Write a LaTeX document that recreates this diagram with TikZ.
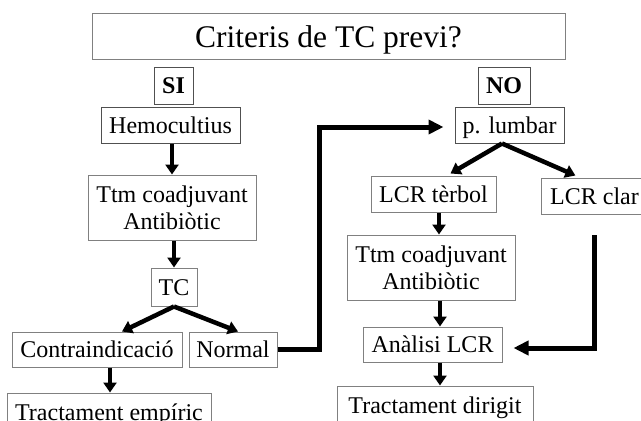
\documentclass[tikz,border=0pt]{standalone}
\usepackage{fontspec}
\setmainfont{Liberation Serif}
\usetikzlibrary{arrows.meta}
\definecolor{boxgray}{HTML}{808080}
\definecolor{boxdark}{HTML}{505050}
\begin{document}
\begin{tikzpicture}[x=1pt,y=-1pt,
  boxbase/.style={draw=boxgray, line width=1pt, inner sep=0pt, font=\fontsize{24}{27}\selectfont},
  box/.style={boxbase, text height=18pt, text depth=2pt},
  box2/.style={boxbase, align=center},
  titlebox/.style={boxbase, text height=24pt, text depth=2pt, font=\fontsize{31.5}{36}\selectfont},
  short/.style={line width=4.5pt, -{Triangle[width=13pt,length=10pt]}},
  long/.style={line width=5pt, -{Triangle[width=14pt,length=15pt]}}]
\clip (0,0) rectangle (641,421);
\fill[white] (0,0) rectangle (641,421);

\node[titlebox, minimum width=473pt, minimum height=46pt] (title) at (328.5,36) {Criteris de TC previ?};
\node[box, draw=boxdark, minimum width=39pt, minimum height=37pt] (si) at (173.5,85.5) {\textbf{SI}};
\node[box, draw=boxdark, minimum width=52pt, minimum height=37pt] (no) at (504,85.5) {\textbf{NO}};
\node[box, draw=boxdark, minimum width=139pt, minimum height=36pt] (hemo) at (170.5,125) {Hemocultius};
\node[box, draw=boxdark, minimum width=109pt, minimum height=36pt] (lumbar) at (509.5,125) {p. lumbar};
\node[box2, minimum width=168pt, minimum height=65pt] (ttmL) at (172,207.5) {Ttm coadjuvant\\Antibiòtic};
\node[box, minimum width=46pt, minimum height=38pt] (tc) at (174,287) {TC};
\node[box, minimum width=170pt, minimum height=35pt] (contra) at (97,349.5) {Contraindicació};
\node[box, minimum width=88pt, minimum height=35pt] (normal) at (233,349.5) {Normal};
\node[box, minimum width=204pt, minimum height=39pt] (empiric) at (109,412.5) {Tractament empíric};
\node[box, minimum width=125pt, minimum height=36pt] (terbol) at (433.5,194) {LCR tèrbol};
\node[box, minimum width=107pt, minimum height=36pt] (clar) at (594.5,196) {LCR clar};
\node[box2, minimum width=168pt, minimum height=65pt] (ttmR) at (431,267.5) {Ttm coadjuvant\\Antibiòtic};
\node[box, minimum width=139pt, minimum height=35pt] (analisi) at (432.5,344.5) {Anàlisi LCR};
\node[box, minimum width=196pt, minimum height=38pt] (dirigit) at (435,405) {Tractament dirigit};
\coordinate (clarout) at (594,235);

% left branch
\draw[short] (hemo.south -| ttmL.north) -- (ttmL.north);
\draw[short] (ttmL.south -| tc.north) -- (tc.north);
\draw[short] (tc.south) -- ([xshift=25pt]contra.north);
\draw[short] (tc.south) -- ([xshift=5pt]normal.north);
\draw[short] ([xshift=13pt]contra.south) -- ([xshift=13pt]contra.south |- empiric.north);
\draw[long, shorten >=11pt] (normal.east) -- ++(42pt,0) |- ([yshift=-2pt]lumbar.west);

% right branch
\draw[short, shorten >=4pt] ([xshift=-7.5pt]lumbar.south) -- ([xshift=13.5pt]terbol.north);
\draw[short, shorten >=5pt] ([xshift=-7.5pt]lumbar.south) -- ([xshift=-14.5pt]clar.north);
\draw[short] ([xshift=5.5pt]terbol.south) -- ([xshift=5.5pt]terbol.south |- ttmR.north);
\draw[short] ([xshift=9pt]ttmR.south) -- ([xshift=9pt]ttmR.south |- analisi.north);
\draw[short] ([xshift=7.5pt]analisi.south) -- ([xshift=7.5pt]analisi.south |- dirigit.north);
\draw[long, shorten >=11pt] (clarout) |- ([yshift=-3.5pt]analisi.east);
\end{tikzpicture}
\end{document}
